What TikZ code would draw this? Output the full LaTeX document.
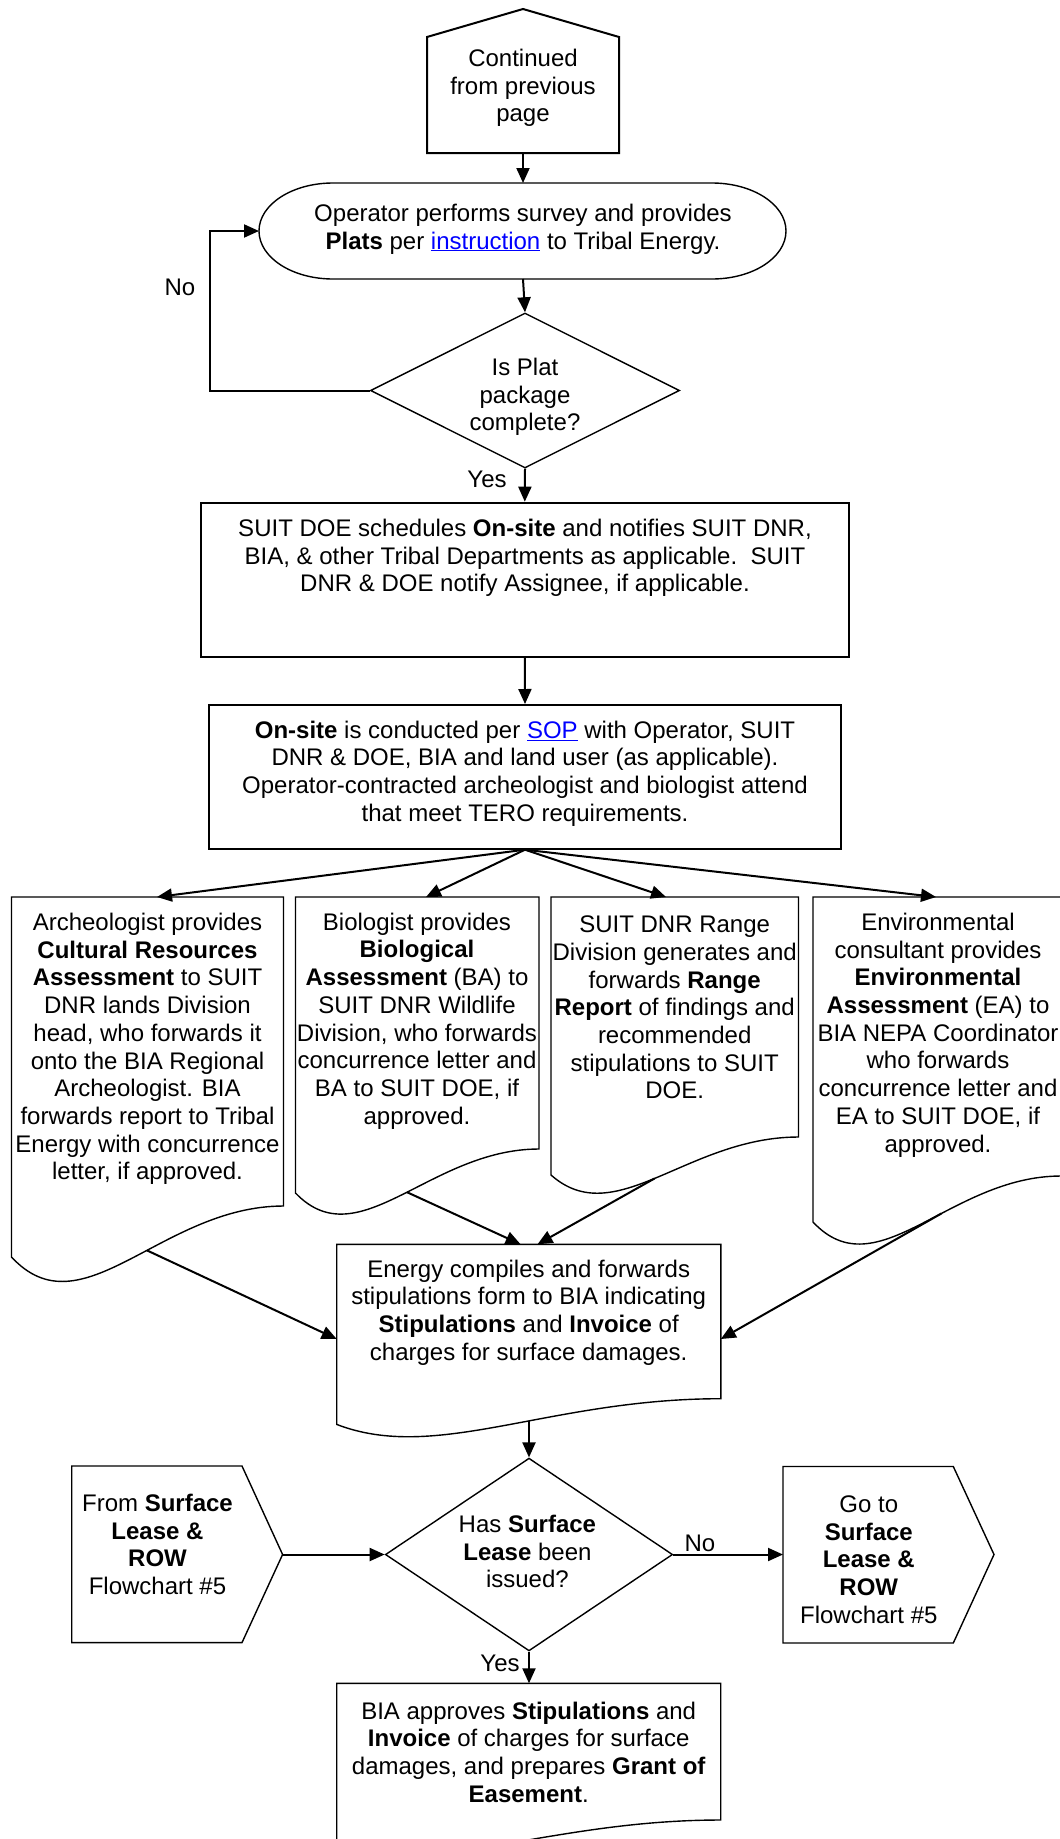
\documentclass[tikz,border=0pt]{standalone}
\usepackage{fontspec}
\setmainfont{Liberation Sans}
\usetikzlibrary{arrows.meta,shapes.geometric}
\begin{document}
\begin{tikzpicture}[x=1pt,y=-1pt,
  shp/.style={draw=black, line width=1.4pt, line join=miter},
  thk/.style={draw=black, line width=2pt, line join=miter},
  box/.style={draw=black, line width=2pt, inner sep=0pt, rectangle},
  dia/.style={draw=black, line width=1.4pt, inner sep=0pt, diamond},
  con/.style={draw=black, line width=2pt, -{Triangle[length=15pt,width=13pt]}},
  txt/.style={align=center, inner sep=0pt, font=\fontsize{24}{27.7}\selectfont}]
\useasboundingbox (0,0) rectangle (1060,1839);

% --- top off-page connector
\draw[thk] (427,153) -- (427,37) -- (523,9) -- (619,37) -- (619,153) -- cycle;
\coordinate (pS) at (523,153);
\node[txt] (ptext) at (523,88) {Continued\\from previous\\page};

% --- terminator (stadium)
\draw[shp] (333,183) -- (712,183)
  .. controls (752.9,183) and (786,204.5) .. (786,231)
  .. controls (786,257.5) and (752.9,279) .. (712,279)
  -- (333,279)
  .. controls (292.1,279) and (259,257.5) .. (259,231)
  .. controls (259,204.5) and (292.1,183) .. (333,183) -- cycle;
\coordinate (sN) at (523,183);
\coordinate (sS) at (523,279);
\coordinate (sW) at (259,231);
\node[txt] (stext) at (523,229) {Operator performs survey and provides\\\textbf{Plats} per \textcolor{blue}{\underline{instruction}} to Tribal Energy.};

% --- decision 1
\node[dia, minimum width=309pt, minimum height=155pt] (d1) at (525,390.5) {};
\node[txt] (d1text) at (525,397) {Is Plat\\package\\complete?};
\node[txt] (no1) at (180,287) {No};
\node[txt] (yes1) at (487,479) {Yes};

% --- box 1
\node[box, minimum width=647.6pt, minimum height=154pt] (b1) at (524.8,579.7) {};
\node[txt] (b1text) at (525,558) {SUIT DOE schedules \textbf{On-site} and notifies SUIT DNR,\\BIA, \& other Tribal Departments as applicable.\ \ SUIT\\DNR \& DOE notify Assignee, if applicable.};

% --- box 2
\node[box, minimum width=632pt, minimum height=143.7pt] (b2) at (525,776.85) {};
\node[txt] (b2text) at (525,773.5) {\textbf{On-site} is conducted per \textcolor{blue}{\underline{SOP}} with Operator, SUIT\\DNR \& DOE, BIA and land user (as applicable).\\Operator-contracted archeologist and biologist attend\\that meet TERO requirements.};

% --- four documents
\draw[shp] (11.5,897) -- (283.5,897) -- (283.5,1206)
  .. controls (161.1,1206) and (82.2,1333.5) .. (11.5,1257) coordinate[pos=0.43] (aB) -- cycle;
\draw[shp] (295.5,897) -- (539,897) -- (539,1149)
  .. controls (429.4,1149) and (358.8,1259) .. (295.5,1193) coordinate[pos=0.47] (bB) -- cycle;
\draw[shp] (551,897) -- (798.5,897) -- (798.5,1137)
  .. controls (687.1,1137) and (615.4,1232) .. (551,1175) coordinate[pos=0.51] (cB) -- cycle;
\draw[shp] (813,897) -- (1061,897) -- (1061,1176)
  .. controls (949.4,1176) and (877.5,1291) .. (813,1222) coordinate[pos=0.41] (dB) -- cycle;
\coordinate (aT) at (157,897);
\coordinate (bT) at (426,897);
\coordinate (cT) at (666,897);
\coordinate (dT) at (936,897);

\node[txt] (atext) at (147.5,1049) {Archeologist provides\\\textbf{Cultural Resources}\\\textbf{Assessment} to SUIT\\DNR lands Division\\head, who forwards it\\onto the BIA Regional\\Archeologist. BIA\\forwards report to Tribal\\Energy with concurrence\\letter, if approved.};
\node[txt] (btext) at (417,1021) {Biologist provides\\\textbf{Biological}\\\textbf{Assessment} (BA) to\\SUIT DNR Wildlife\\Division, who forwards\\concurrence letter and\\BA to SUIT DOE, if\\approved.};
\node[txt] (ctext) at (674.7,1007.5) {SUIT DNR Range\\Division generates and\\forwards \textbf{Range}\\\textbf{Report} of findings and\\recommended\\stipulations to SUIT\\DOE.};
\node[txt] (dtext) at (938,1035) {Environmental\\consultant provides\\\textbf{Environmental}\\\textbf{Assessment} (EA) to\\BIA NEPA Coordinator\\who forwards\\concurrence letter and\\EA to SUIT DOE, if\\approved.};

% --- energy document
\draw[shp] (336.7,1244.3) -- (720.8,1244.3) -- (720.8,1398.7)
  .. controls (548,1398.7) and (436.6,1463) .. (336.7,1424.4) coordinate[pos=0.425] (eB) -- cycle;
\coordinate (eT1) at (520.6,1244.3);
\coordinate (eT2) at (537.5,1244.3);
\coordinate (eL) at (336.7,1339);
\coordinate (eR) at (720.8,1339);
\node[txt] (etext) at (528.7,1312.5) {Energy compiles and forwards\\stipulations form to BIA indicating\\\textbf{Stipulations} and \textbf{Invoice} of\\charges for surface damages.};

% --- decision 2
\node[dia, minimum width=287.3pt, minimum height=192.8pt] (d2) at (529,1554.5) {};
\node[txt] (d2text) at (527.4,1551.5) {Has \textbf{Surface}\\\textbf{Lease} been\\issued?};
\node[txt] (no2) at (700,1543.8) {No};
\node[txt] (yes2) at (500,1663) {Yes};

% --- left off-page connector
\draw[shp] (71.7,1466) -- (242,1466) -- (282.6,1554.5) -- (242,1642.6) -- (71.7,1642.6) -- cycle;
\coordinate (lpT) at (282.6,1554.5);
\node[txt] (lptext) at (157.5,1544.3) {From \textbf{Surface}\\\textbf{Lease \&}\\\textbf{ROW}\\Flowchart \#5};

% --- right off-page connector
\draw[shp] (783,1466.5) -- (953.3,1466.5) -- (994,1554.5) -- (953.3,1643) -- (783,1643) -- cycle;
\coordinate (rpL) at (783,1554.5);
\node[txt] (rptext) at (868.8,1559.5) {Go to\\\textbf{Surface}\\\textbf{Lease \&}\\\textbf{ROW}\\Flowchart \#5};

% --- final document
\draw[shp] (336.7,1683.3) -- (720.7,1683.3) -- (720.7,1820)
  .. controls (547.9,1820) and (436.5,1877.5) .. (336.7,1843) -- cycle;
\coordinate (fN) at (529,1683.3);
\node[txt] (ftext) at (528.7,1752) {BIA approves \textbf{Stipulations} and\\\textbf{Invoice} of charges for surface\\damages, and prepares \textbf{Grant of}\\\textbf{Easement}.};

% --- connectors
\draw[con] (pS) -- (sN);
\draw[con] (sS) -- (d1.north);
\draw[con] (d1.west) -- ++(-159.5,0) |- (sW);
\draw[con] (d1.south) -- (b1.north);
\draw[con] (b1.south) -- (b2.north);
\draw[con] (b2.south) -- (aT);
\draw[con] (b2.south) -- (bT);
\draw[con] (b2.south) -- (cT);
\draw[con] (b2.south) -- (dT);
\draw[con] (aB) -- (eL);
\draw[con] (bB) -- (eT1);
\draw[con] (cB) -- (eT2);
\draw[con] (dB) -- (eR);
\draw[con] (d2.north |- eB) -- (d2.north);
\draw[con] (lpT) -- (d2.west);
\draw[con] (d2.east) -- (rpL);
\draw[con] (d2.south) -- (fN);
\end{tikzpicture}
\end{document}
